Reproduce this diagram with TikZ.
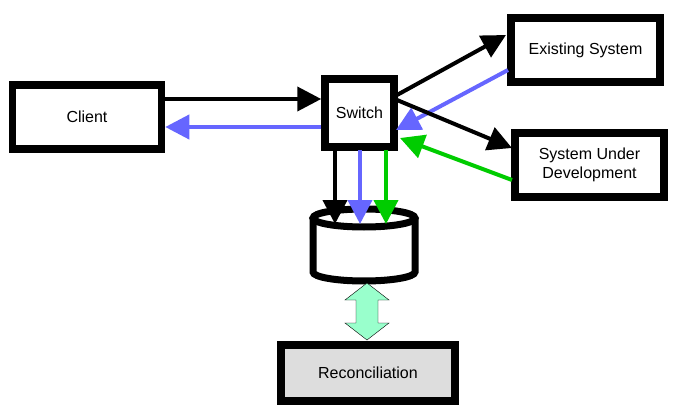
\documentclass[tikz,border=0pt]{standalone}
\usepackage{fontspec}
\setmainfont{Liberation Sans}
\usetikzlibrary{arrows.meta}
\begin{document}
\begin{tikzpicture}[x=1pt,y=-1pt,
 box/.style={draw,line width=7.5pt,fill=white,inner sep=0pt,font=\fontsize{16}{19}\selectfont,align=center},
 ar/.style={line width=4pt,-{Triangle[length=24pt,width=24pt]}},
 blu/.style={ar,draw={rgb,255:red,102;green,102;blue,255}},
 grn/.style={ar,draw={rgb,255:red,0;green,204;blue,0}}]
\useasboundingbox (0,0) rectangle (673,420);
\node[box,minimum width=149pt,minimum height=64pt] (client) at (87,117) {Client};
\node[box,minimum width=69pt,minimum height=68pt] (switch) at (359.5,113) {Switch};
\node[box,minimum width=149pt,minimum height=64pt] (ex) at (585.5,50) {Existing System};
\node[box,minimum width=149pt,minimum height=64pt] (sud) at (589.5,165) {System Under\\Development};
\node[box,fill={rgb,255:red,221;green,221;blue,221},minimum width=174pt,minimum height=56pt] (rec) at (368,373) {Reconciliation};
% cylinder
\draw[line width=7pt,fill=white] (313,218) -- (313,272) arc[start angle=180,end angle=0,x radius=51,y radius=9] -- (415,218);
\draw[line width=7pt] (364,218) ellipse[x radius=51,y radius=9];
% arrows
\draw[ar] (client.east |- 0,99) -- (switch.west |- 0,99);
\draw[blu] (switch.west |- 0,127) -- (client.east |- 0,127);
\draw[ar] (397,95) -- (506,35);
\draw[blu] (508,70) -- (396,130);
\draw[ar] (397,100) -- (512,148);
\draw[grn] (512,180) -- (400,138);
\draw[ar] (335,150) -- (335,224);
\draw[blu] (360,150) -- (360,224);
\draw[grn] (386,150) -- (386,224);
\coordinate (dtop) at (367,283);
\coordinate (dbot) at (367,340);
\draw[thin,fill={rgb,255:red,153;green,255;blue,204}] (dtop) -- ++(22,17) -- ++(-11,0) -- ++(0,23) -- ++(11,0) -- (dbot) -- ++(-22,-17) -- ++(11,0) -- ++(0,-23) -- ++(-11,0) -- cycle;
\end{tikzpicture}
\end{document}
